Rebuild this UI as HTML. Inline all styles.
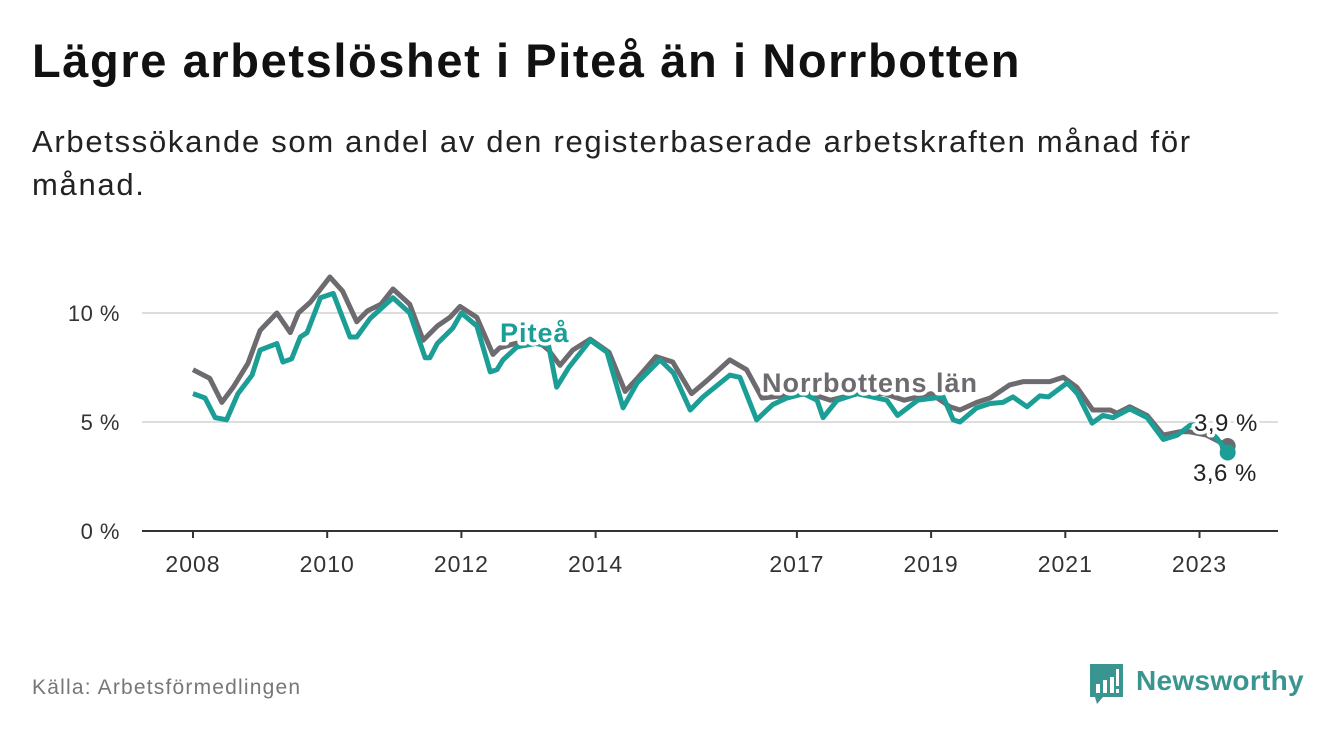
<!DOCTYPE html>
<html><head><meta charset="utf-8">
<style>
body{margin:0;width:1340px;height:734px;background:#fff;font-family:"Liberation Sans",sans-serif;overflow:hidden;position:relative}
#title{position:absolute;left:32px;top:33px;font-size:47px;letter-spacing:1.6px;font-weight:bold;color:#111;margin:0}
#sub{position:absolute;left:32px;top:120px;width:1190px;font-size:31px;letter-spacing:1.7px;line-height:43px;color:#222}
#src{position:absolute;left:32px;top:676px;font-size:21px;letter-spacing:1.2px;color:#777}
svg{position:absolute;left:0;top:0}
</style></head><body>
<h1 id="title">Lägre arbetslöshet i Piteå än i Norrbotten</h1>
<div id="sub">Arbetssökande som andel av den registerbaserade arbetskraften månad för månad.</div>
<div id="src">Källa: Arbetsförmedlingen</div>
<svg id="chart" width="1340" height="734"></svg>
<script>
const yTicks=[0,5,10];
const xTicks=[2008,2010,2012,2014,2017,2019,2021,2023];
const norrT=[2008.0,2008.25,2008.43,2008.6,2008.82,2009.0,2009.25,2009.45,2009.57,2009.75,2010.04,2010.23,2010.44,2010.6,2010.8,2010.98,2011.23,2011.43,2011.64,2011.83,2011.98,2012.23,2012.47,2012.57,2012.8,2013.1,2013.3,2013.47,2013.66,2013.92,2014.2,2014.44,2014.62,2014.9,2015.15,2015.43,2015.66,2016.0,2016.25,2016.48,2016.8,2017.2,2017.5,2017.9,2018.3,2018.6,2019.0,2019.28,2019.43,2019.68,2019.88,2020.17,2020.37,2020.77,2020.97,2021.17,2021.41,2021.67,2021.77,2021.96,2022.22,2022.46,2022.7,2022.85,2023.1,2023.42];
const norrV=[7.4,7.0,5.9,6.6,7.7,9.2,10.0,9.1,10.0,10.5,11.65,11.0,9.6,10.1,10.4,11.1,10.4,8.75,9.4,9.8,10.3,9.8,8.1,8.4,8.6,8.8,8.3,7.6,8.3,8.8,8.2,6.4,7.0,8.0,7.75,6.3,6.9,7.85,7.4,6.1,6.2,6.3,6.0,6.3,6.3,6.0,6.3,5.7,5.55,5.9,6.1,6.7,6.85,6.85,7.05,6.6,5.55,5.55,5.4,5.7,5.3,4.4,4.55,4.55,4.4,3.9];
const pitT=[2008.0,2008.18,2008.33,2008.5,2008.67,2008.88,2009.0,2009.25,2009.34,2009.47,2009.6,2009.7,2009.9,2010.09,2010.34,2010.44,2010.64,2010.98,2011.23,2011.46,2011.53,2011.64,2011.87,2012.0,2012.23,2012.43,2012.53,2012.62,2012.83,2013.1,2013.3,2013.42,2013.6,2013.92,2014.17,2014.41,2014.62,2014.96,2015.16,2015.41,2015.6,2016.0,2016.15,2016.4,2016.64,2016.85,2017.1,2017.3,2017.39,2017.6,2017.9,2018.34,2018.5,2018.8,2019.18,2019.33,2019.43,2019.68,2019.88,2020.07,2020.22,2020.43,2020.62,2020.75,2021.03,2021.18,2021.4,2021.56,2021.71,2021.96,2022.22,2022.46,2022.67,2022.86,2023.05,2023.26,2023.42];
const pitV=[6.3,6.1,5.2,5.1,6.3,7.15,8.3,8.6,7.75,7.9,8.9,9.1,10.7,10.9,8.9,8.9,9.75,10.7,10.0,7.95,7.95,8.6,9.3,10.0,9.4,7.3,7.4,7.85,8.45,8.6,8.5,6.6,7.5,8.75,8.2,5.65,6.8,7.85,7.25,5.55,6.15,7.15,7.05,5.1,5.8,6.1,6.3,6.0,5.2,6.0,6.3,6.0,5.3,6.0,6.15,5.1,5.0,5.65,5.85,5.9,6.15,5.7,6.2,6.15,6.8,6.3,4.95,5.3,5.2,5.6,5.2,4.2,4.4,4.85,4.9,4.25,3.6];
const NS="http://www.w3.org/2000/svg";
const svg=document.getElementById('chart');
const X=t=>193+(t-2008)*67.1;
const Y=v=>531-v*21.8;
function el(tag,attrs,parent){const e=document.createElementNS(NS,tag);for(const k in attrs)e.setAttribute(k,attrs[k]);(parent||svg).appendChild(e);return e;}
yTicks.forEach(v=>{
  if(v>0){const g=el('line',{x1:142,x2:1278,y1:Y(v),y2:Y(v),stroke:'#ddd','stroke-width':2});
  
  }
  const t=el('text',{x:120,y:Y(v)+8,'text-anchor':'end','font-size':22,'letter-spacing':0.5,fill:'#333'});
  t.textContent=v+' %';
  
  
});
const ax=el('line',{x1:142,x2:1278,y1:531,y2:531,stroke:'#333','stroke-width':2});


xTicks.forEach(yr=>{
  el('line',{x1:X(yr),x2:X(yr),y1:531,y2:538,stroke:'#333','stroke-width':2});
  const t=el('text',{x:X(yr),y:572,'text-anchor':'middle','font-size':23,'letter-spacing':1,fill:'#333'});
  t.textContent=yr;
  
  
});
function line(T,V,c,name){
  const p=el('polyline',{points:T.map((t,i)=>X(t)+','+Y(V[i])).join(' '),fill:'none',stroke:c,'stroke-width':5,'stroke-linejoin':'round'});
  
  
  const d=el('circle',{cx:X(T[T.length-1]),cy:Y(V[V.length-1]),r:8,fill:c});
  
  
}
line(norrT,norrV,'#6e6b70','norrbotten-line');
line(pitT,pitV,'#1a9e96','pitea-line');
function label(x,y,txt,c,bold,name){
  const t=el('text',{x:x,y:y,'font-size':bold?27:24,'letter-spacing':bold?1:0.5,'font-weight':bold?'bold':'normal',fill:c,stroke:'#fff','stroke-width':7,'paint-order':'stroke','stroke-linejoin':'round'});
  t.textContent=txt;
  
  
}
label(500,342,'Piteå','#1a9e96',true,'pitea-label');
label(762,392,'Norrbottens län','#6e6b70',true,'norrbotten-label');
label(1194,431,'3,9 %','#222',false,'norrbotten-end-value');
label(1193,481,'3,6 %','#222',false,'pitea-end-value');
const lg=el('g',{});


el('path',{d:'M1090 664 h33 v33 h-20 l-6 7 l-2 -7 h-5 z',fill:'#3a948f'},lg);
[[1096,684,4,9],[1103,680,4,13],[1110,677,4,16]].forEach(r=>el('rect',{x:r[0],y:r[1],width:r[2],height:r[3],fill:'#fff'},lg));
el('rect',{x:1116,y:669,width:3,height:17,fill:'#fff'},lg);
el('rect',{x:1116,y:689,width:3,height:4,fill:'#fff'},lg);
const lt=el('text',{x:1136,y:690,'font-size':28,'letter-spacing':0.3,'font-weight':'bold',fill:'#3a948f'},lg);
lt.textContent='Newsworthy';
</script>
</body></html>
